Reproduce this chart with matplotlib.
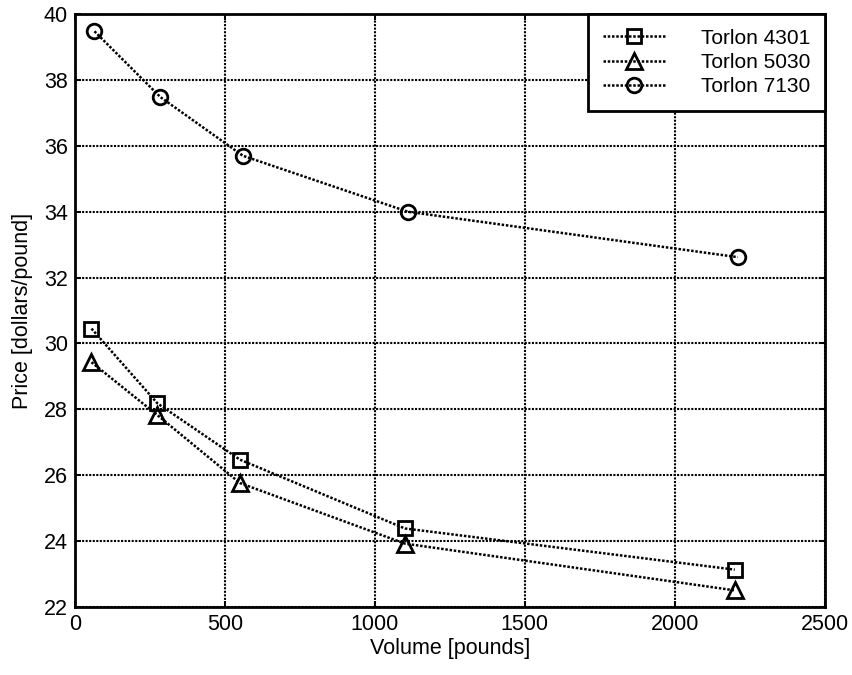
import matplotlib
matplotlib.use('Agg')

import matplotlib.pyplot as plt

plt.rcParams['font.family'] = ['Liberation Sans', 'DejaVu Sans']

# volumes [pounds] and prices [dollars/pound]
volume_4301 = [55, 275, 550, 1100, 2200]
price_4301 = [30.45, 28.18, 26.47, 24.38, 23.13]

volume_5030 = [55, 275, 550, 1100, 2200]
price_5030 = [29.43, 27.82, 25.76, 23.92, 22.50]

volume_7130 = [65, 285, 560, 1110, 2210]
price_7130 = [39.48, 37.48, 35.70, 34.00, 32.62]

labels = ['Torlon 4301', 'Torlon 5030', 'Torlon 7130']
x_ticks = [0, 500, 1000, 1500, 2000, 2500]
y_ticks = [22, 24, 26, 28, 30, 32, 34, 36, 38, 40]

fig = plt.figure(figsize=(8.52, 6.75), dpi=100)
ax = fig.add_axes([0.088, 0.101, 0.880, 0.878])

dots = (0, (1, 0.7))
style = dict(color='black', linestyle=dots, linewidth=1.8,
             markerfacecolor='none', markeredgecolor='black',
             markeredgewidth=2.0)

ax.plot(volume_4301, price_4301, marker='s', markersize=10.5, label=labels[0], **style)
ax.plot(volume_5030, price_5030, marker='^', markersize=11.5, label=labels[1], **style)
ax.plot(volume_7130, price_7130, marker='o', markersize=10.5, label=labels[2], **style)

ax.set_xlim(0, 2500)
ax.set_ylim(22, 40)
ax.set_xticks(x_ticks)
ax.set_yticks(y_ticks)

ax.grid(True, color='black', linestyle=dots, linewidth=1.5)
ax.set_axisbelow(True)
ax.tick_params(axis='both', direction='in', length=4, width=1.4,
               labelsize=15.5, top=True, right=True, pad=5)
for spine in ax.spines.values():
    spine.set_linewidth(2.0)
    spine.set_color('black')

ax.set_xlabel('Volume [pounds]', fontsize=15.5, labelpad=2)
ax.set_ylabel('Price [dollars/pound]', fontsize=15.5, labelpad=8)

leg = ax.legend(loc='upper right', fontsize=15, frameon=True, fancybox=False,
                borderaxespad=0, handlelength=3.0, handletextpad=1.7,
                labelspacing=0.25, borderpad=0.7, framealpha=1)
leg.get_frame().set_edgecolor('black')
leg.get_frame().set_linewidth(2.0)

plt.savefig('out.png', dpi=100, facecolor='white')
plt.close()
